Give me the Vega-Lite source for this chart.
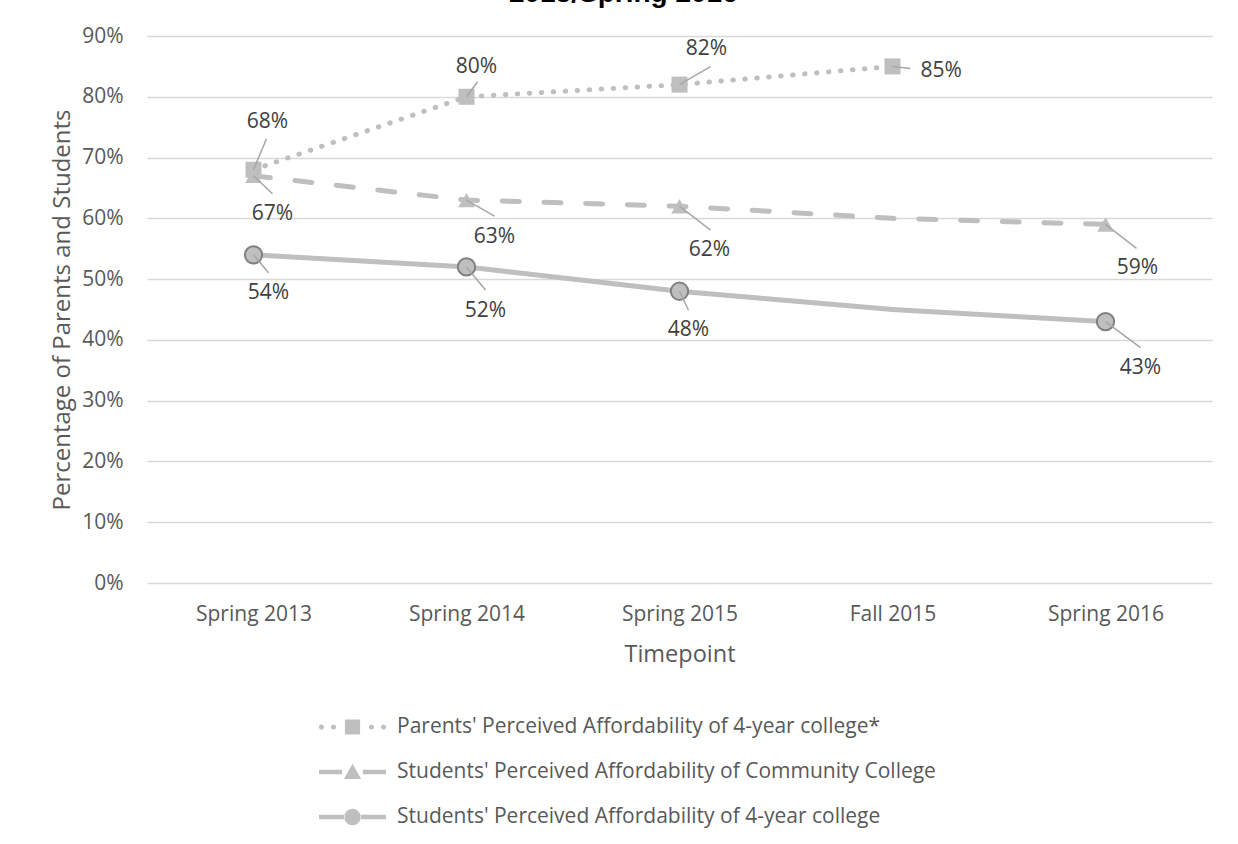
{
  "$schema": "https://vega.github.io/schema/vega-lite/v6.json",
  "width": 1065,
  "height": 547,
  "autosize": {"type": "none"},
  "padding": {"left": 147, "top": 36, "right": 26, "bottom": 261},
  "background": "white",
  "title": {
    "text": "2013/Spring 2016",
    "font": "Liberation Sans",
    "fontSize": 28,
    "fontWeight": "bold",
    "color": "#000000",
    "anchor": "middle",
    "frame": "bounds",
    "offset": 17,
    "dx": -8
  },
  "config": {
    "font": "Open Sans",
    "view": {"stroke": null},
    "axis": {"labelFont": "Open Sans", "titleFont": "Open Sans", "labelColor": "#595959", "titleColor": "#595959", "titleFontWeight": "normal"}
  },
  "data": {
    "values": [
      {"series": "Parents' Perceived Affordability of 4-year college*", "t": "Spring 2013", "v": 0.68},
      {"series": "Parents' Perceived Affordability of 4-year college*", "t": "Spring 2014", "v": 0.80},
      {"series": "Parents' Perceived Affordability of 4-year college*", "t": "Spring 2015", "v": 0.82},
      {"series": "Parents' Perceived Affordability of 4-year college*", "t": "Fall 2015", "v": 0.85},
      {"series": "Students' Perceived Affordability of Community College", "t": "Spring 2013", "v": 0.67},
      {"series": "Students' Perceived Affordability of Community College", "t": "Spring 2014", "v": 0.63},
      {"series": "Students' Perceived Affordability of Community College", "t": "Spring 2015", "v": 0.62},
      {"series": "Students' Perceived Affordability of Community College", "t": "Fall 2015", "v": 0.60},
      {"series": "Students' Perceived Affordability of Community College", "t": "Spring 2016", "v": 0.59},
      {"series": "Students' Perceived Affordability of 4-year college", "t": "Spring 2013", "v": 0.54},
      {"series": "Students' Perceived Affordability of 4-year college", "t": "Spring 2014", "v": 0.52},
      {"series": "Students' Perceived Affordability of 4-year college", "t": "Spring 2015", "v": 0.48},
      {"series": "Students' Perceived Affordability of 4-year college", "t": "Fall 2015", "v": 0.45},
      {"series": "Students' Perceived Affordability of 4-year college", "t": "Spring 2016", "v": 0.43}
    ]
  },
  "encoding": {
    "x": {
      "field": "t", "type": "nominal",
      "scale": {"type": "point", "padding": 0.5, "domain": ["Spring 2013", "Spring 2014", "Spring 2015", "Fall 2015", "Spring 2016"]},
      "axis": {"labelAngle": 0, "labelFontSize": 21, "labelPadding": 20, "ticks": false, "domain": false, "grid": false, "title": "Timepoint", "titleFontSize": 23.5, "titlePadding": 18}
    },
    "y": {
      "field": "v", "type": "quantitative",
      "scale": {"domain": [0, 0.9], "nice": false, "zero": true},
      "axis": {"values": [0, 0.1, 0.2, 0.3, 0.4, 0.5, 0.6, 0.7, 0.8, 0.9], "format": ".0%", "labelFontSize": 21, "labelPadding": 24, "ticks": false, "domain": false, "grid": true, "gridColor": "#d9d9d9", "gridWidth": 1.3, "title": "Percentage of Parents and Students", "titleFontSize": 24, "titlePadding": 7}
    }
  },
  "layer": [
    {
      "mark": {"type": "line", "color": "#bfbfbf", "strokeWidth": 5, "strokeCap": "round"},
      "encoding": {
        "detail": {"field": "series"},
        "strokeDash": {
          "field": "series", "type": "nominal", "legend": null,
          "scale": {"domain": ["Parents' Perceived Affordability of 4-year college*", "Students' Perceived Affordability of Community College", "Students' Perceived Affordability of 4-year college"], "range": [[0.5, 11.5], [17, 24.7], [1, 0]]}
        }
      }
    },
    {
      "transform": [{"filter": "datum.t != 'Fall 2015' || datum.series == \"Parents' Perceived Affordability of 4-year college*\""}],
      "mark": {"type": "point", "filled": true, "color": "#bfbfbf", "opacity": 1, "strokeWidth": 2},
      "encoding": {
        "shape": {
          "field": "series", "type": "nominal", "legend": null,
          "scale": {"domain": ["Parents' Perceived Affordability of 4-year college*", "Students' Perceived Affordability of Community College", "Students' Perceived Affordability of 4-year college"], "range": ["square", "triangle-up", "circle"]}
        },
        "size": {
          "field": "series", "type": "nominal", "legend": null,
          "scale": {"domain": ["Parents' Perceived Affordability of 4-year college*", "Students' Perceived Affordability of Community College", "Students' Perceived Affordability of 4-year college"], "range": [256, 300, 324]}
        },
        "stroke": {
          "condition": {"test": "datum.series == \"Students' Perceived Affordability of 4-year college\"", "value": "#808080"},
          "value": null
        }
      }
    },
    {
      "mark": {"type": "point", "filled": true, "color": "#bfbfbf", "opacity": 0},
      "encoding": {
        "shape": {
          "field": "series", "type": "nominal",
          "scale": {
            "domain": ["Parents' Perceived Affordability of 4-year college*", "Students' Perceived Affordability of Community College", "Students' Perceived Affordability of 4-year college"],
            "range": [
              "M-0.975,0a0.075,0.075 0 1,0 0.15,0a0.075,0.075 0 1,0 -0.15,0Z M-0.625,0a0.075,0.075 0 1,0 0.15,0a0.075,0.075 0 1,0 -0.15,0Z M0.475,0a0.075,0.075 0 1,0 0.15,0a0.075,0.075 0 1,0 -0.15,0Z M0.825,0a0.075,0.075 0 1,0 0.15,0a0.075,0.075 0 1,0 -0.15,0Z M-0.22,-0.22H0.22V0.22H-0.22Z",
              "M-0.97,-0.065H-0.3V0.065H-0.97Z M0.3,-0.065H0.97V0.065H0.3Z M0,-0.24L0.25,0.2H-0.25Z",
              "M-0.97,-0.065H-0.22V0.065H-0.97Z M0.22,-0.065H0.97V0.065H0.22Z M-0.24,0a0.24,0.24 0 1,0 0.48,0a0.24,0.24 0 1,0 -0.48,0Z"
            ]
          },
          "legend": {
            "title": null, "orient": "none", "legendX": 171, "legendY": 680, "padding": 0,
            "symbolSize": 4761, "symbolOpacity": 1, "symbolStrokeWidth": 0, "symbolFillColor": "#bfbfbf",
            "clipHeight": 22, "rowPadding": 23, "labelOffset": 10,
            "labelFont": "Open Sans", "labelFontSize": 21, "labelColor": "#595959", "labelLimit": 800
          }
        }
      }
    },
    {
      "transform": [{"filter": "datum.series == \"Parents' Perceived Affordability of 4-year college*\" && datum.t == 'Spring 2013'"}],
      "layer": [
        {"mark": {"type": "rule", "color": "#a6a6a6", "strokeWidth": 1.5, "x2Offset": 13, "y2Offset": -31}, "encoding": {"x2": {"field": "t"}, "y2": {"field": "v"}}},
        {"mark": {"type": "text", "dx": 14, "dy": -48, "fontSize": 21, "color": "#404040", "font": "Open Sans"}, "encoding": {"text": {"field": "v", "format": ".0%"}}}
      ]
    },
    {
      "transform": [{"filter": "datum.series == \"Parents' Perceived Affordability of 4-year college*\" && datum.t == 'Spring 2014'"}],
      "layer": [
        {"mark": {"type": "rule", "color": "#a6a6a6", "strokeWidth": 1.5, "x2Offset": 11, "y2Offset": -15}, "encoding": {"x2": {"field": "t"}, "y2": {"field": "v"}}},
        {"mark": {"type": "text", "dx": 10, "dy": -30, "fontSize": 21, "color": "#404040", "font": "Open Sans"}, "encoding": {"text": {"field": "v", "format": ".0%"}}}
      ]
    },
    {
      "transform": [{"filter": "datum.series == \"Parents' Perceived Affordability of 4-year college*\" && datum.t == 'Spring 2015'"}],
      "layer": [
        {"mark": {"type": "rule", "color": "#a6a6a6", "strokeWidth": 1.5, "x2Offset": 31, "y2Offset": -18}, "encoding": {"x2": {"field": "t"}, "y2": {"field": "v"}}},
        {"mark": {"type": "text", "dx": 27, "dy": -36, "fontSize": 21, "color": "#404040", "font": "Open Sans"}, "encoding": {"text": {"field": "v", "format": ".0%"}}}
      ]
    },
    {
      "transform": [{"filter": "datum.series == \"Parents' Perceived Affordability of 4-year college*\" && datum.t == 'Fall 2015'"}],
      "layer": [
        {"mark": {"type": "rule", "color": "#a6a6a6", "strokeWidth": 1.5, "x2Offset": 18, "y2Offset": 2}, "encoding": {"x2": {"field": "t"}, "y2": {"field": "v"}}},
        {"mark": {"type": "text", "dx": 28, "dy": 5, "align": "left", "fontSize": 21, "color": "#404040", "font": "Open Sans"}, "encoding": {"text": {"field": "v", "format": ".0%"}}}
      ]
    },
    {
      "transform": [{"filter": "datum.series == \"Students' Perceived Affordability of Community College\" && datum.t == 'Spring 2013'"}],
      "layer": [
        {"mark": {"type": "rule", "color": "#a6a6a6", "strokeWidth": 1.5, "x2Offset": 19, "y2Offset": 18}, "encoding": {"x2": {"field": "t"}, "y2": {"field": "v"}}},
        {"mark": {"type": "text", "dx": 19, "dy": 38, "fontSize": 21, "color": "#404040", "font": "Open Sans"}, "encoding": {"text": {"field": "v", "format": ".0%"}}}
      ]
    },
    {
      "transform": [{"filter": "datum.series == \"Students' Perceived Affordability of Community College\" && datum.t == 'Spring 2014'"}],
      "layer": [
        {"mark": {"type": "rule", "color": "#a6a6a6", "strokeWidth": 1.5, "x2Offset": 28, "y2Offset": 16}, "encoding": {"x2": {"field": "t"}, "y2": {"field": "v"}}},
        {"mark": {"type": "text", "dx": 28, "dy": 37, "fontSize": 21, "color": "#404040", "font": "Open Sans"}, "encoding": {"text": {"field": "v", "format": ".0%"}}}
      ]
    },
    {
      "transform": [{"filter": "datum.series == \"Students' Perceived Affordability of Community College\" && datum.t == 'Spring 2015'"}],
      "layer": [
        {"mark": {"type": "rule", "color": "#a6a6a6", "strokeWidth": 1.5, "x2Offset": 31, "y2Offset": 24}, "encoding": {"x2": {"field": "t"}, "y2": {"field": "v"}}},
        {"mark": {"type": "text", "dx": 30, "dy": 44, "fontSize": 21, "color": "#404040", "font": "Open Sans"}, "encoding": {"text": {"field": "v", "format": ".0%"}}}
      ]
    },
    {
      "transform": [{"filter": "datum.series == \"Students' Perceived Affordability of Community College\" && datum.t == 'Spring 2016'"}],
      "layer": [
        {"mark": {"type": "rule", "color": "#a6a6a6", "strokeWidth": 1.5, "x2Offset": 31, "y2Offset": 24}, "encoding": {"x2": {"field": "t"}, "y2": {"field": "v"}}},
        {"mark": {"type": "text", "dx": 32, "dy": 44, "fontSize": 21, "color": "#404040", "font": "Open Sans"}, "encoding": {"text": {"field": "v", "format": ".0%"}}}
      ]
    },
    {
      "transform": [{"filter": "datum.series == \"Students' Perceived Affordability of 4-year college\" && datum.t == 'Spring 2013'"}],
      "layer": [
        {"mark": {"type": "rule", "color": "#a6a6a6", "strokeWidth": 1.5, "x2Offset": 15, "y2Offset": 18}, "encoding": {"x2": {"field": "t"}, "y2": {"field": "v"}}},
        {"mark": {"type": "text", "dx": 15, "dy": 38, "fontSize": 21, "color": "#404040", "font": "Open Sans"}, "encoding": {"text": {"field": "v", "format": ".0%"}}}
      ]
    },
    {
      "transform": [{"filter": "datum.series == \"Students' Perceived Affordability of 4-year college\" && datum.t == 'Spring 2014'"}],
      "layer": [
        {"mark": {"type": "rule", "color": "#a6a6a6", "strokeWidth": 1.5, "x2Offset": 19, "y2Offset": 23}, "encoding": {"x2": {"field": "t"}, "y2": {"field": "v"}}},
        {"mark": {"type": "text", "dx": 19, "dy": 44, "fontSize": 21, "color": "#404040", "font": "Open Sans"}, "encoding": {"text": {"field": "v", "format": ".0%"}}}
      ]
    },
    {
      "transform": [{"filter": "datum.series == \"Students' Perceived Affordability of 4-year college\" && datum.t == 'Spring 2015'"}],
      "layer": [
        {"mark": {"type": "rule", "color": "#a6a6a6", "strokeWidth": 1.5, "x2Offset": 9, "y2Offset": 19}, "encoding": {"x2": {"field": "t"}, "y2": {"field": "v"}}},
        {"mark": {"type": "text", "dx": 9, "dy": 39, "fontSize": 21, "color": "#404040", "font": "Open Sans"}, "encoding": {"text": {"field": "v", "format": ".0%"}}}
      ]
    },
    {
      "transform": [{"filter": "datum.series == \"Students' Perceived Affordability of 4-year college\" && datum.t == 'Spring 2016'"}],
      "layer": [
        {"mark": {"type": "rule", "color": "#a6a6a6", "strokeWidth": 1.5, "x2Offset": 35, "y2Offset": 26}, "encoding": {"x2": {"field": "t"}, "y2": {"field": "v"}}},
        {"mark": {"type": "text", "dx": 35, "dy": 46, "fontSize": 21, "color": "#404040", "font": "Open Sans"}, "encoding": {"text": {"field": "v", "format": ".0%"}}}
      ]
    }
  ],
  "resolve": {"scale": {"shape": "independent", "size": "independent"}, "legend": {"shape": "independent"}}
}
